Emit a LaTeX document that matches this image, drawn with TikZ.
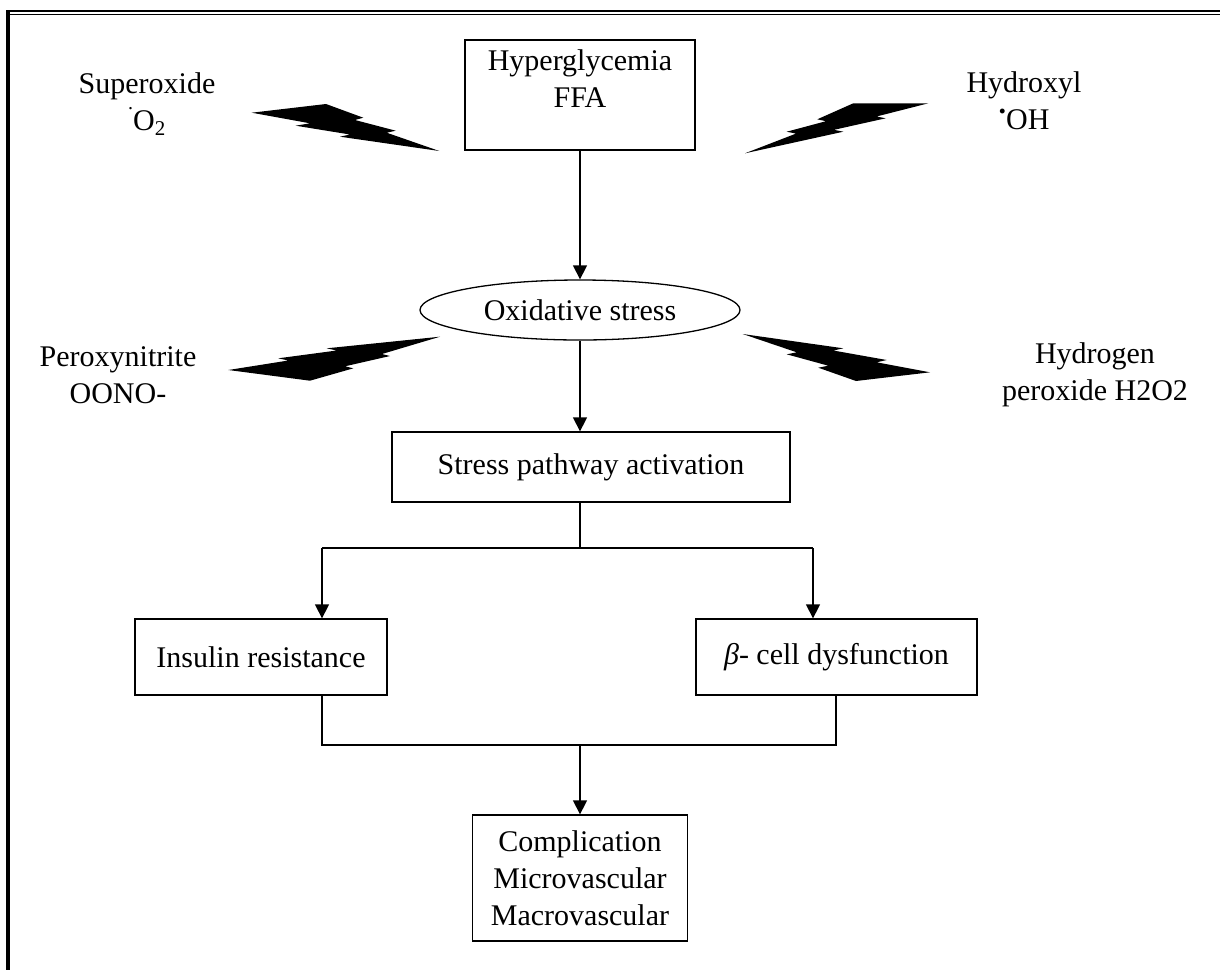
\documentclass[tikz,border=0pt]{standalone}
\usepackage{fontspec}
\setmainfont{Liberation Serif}
\usetikzlibrary{arrows.meta,shapes.geometric}
\begin{document}
\begin{tikzpicture}[x=1pt,y=-1pt,
  txt/.style={align=center,font=\fontsize{30}{37}\selectfont},
  box/.style={txt,draw,line width=1.3pt,inner sep=0pt},
  conn/.style={line width=1.3pt},
  arr/.style={conn,-{Triangle[width=14pt,length=14pt]}},
  bolt/.style={fill=black,draw=none}]
\useasboundingbox (0,0) rectangle (1220,970);
% border
\draw[line width=2pt] (6,11) -- (1220,11);
\draw[line width=1pt] (6,14.5) -- (1220,14.5);
\draw[line width=4pt] (8,10) -- (8,970);
% nodes
\node[box,minimum width=230pt,minimum height=110pt] (hyp) at (580,95) {Hyperglycemia\\FFA\\[-16pt]\strut};
\node[box,ellipse,minimum width=320pt,minimum height=60pt] (ox) at (580,310) {Oxidative stress};
\node[box,minimum width=398pt,minimum height=70pt] (st) at (591,467) {Stress pathway activation};
\node[box,minimum width=252pt,minimum height=76pt] (ins) at (261,657) {Insulin resistance};
\node[box,minimum width=281pt,minimum height=76pt] (beta) at (836.5,657) {{\itshape β}- cell dysfunction};
\node[box,minimum width=215pt,minimum height=126pt] (comp) at (580,878) {Complication\\Microvascular\\Macrovascular};
% labels
\node[txt] (so) at (147,104) {Superoxide\\\smash{\raisebox{21pt}{\fontsize{20}{20}\selectfont .}}O\textsubscript{2}};
\node[txt] (hy) at (1024,101) {Hydroxyl\\\smash{\raisebox{16pt}{\bfseries .}}OH};
\node[txt] (pn) at (118,375) {Peroxynitrite\\OONO-};
\node[txt] (hp) at (1095,375) {Hydrogen\\peroxide H2O2};
% connectors
\draw[arr] (hyp.south) -- (ox.north);
\draw[arr] (ox.south) -- (ox.south |- st.north);
\coordinate (sp) at (580,548);
\coordinate (sl) at (322,548);
\coordinate (sr) at (813,548);
\draw[conn] (st.south -| sp) -- (sp);
\draw[conn] (sl) -- (sr);
\draw[arr] (sl) -- (sl |- ins.north);
\draw[arr] (sr) -- (sr |- beta.north);
\coordinate (ml) at (322,745);
\coordinate (mr) at (836,745);
\coordinate (mc) at (580,745);
\draw[conn] (ins.south -| ml) -- (ml) -- (mr) -- (beta.south -| mr);
\draw[arr] (mc) -- (comp.north);
% lightning bolts
\fill[bolt] (251.7,112.7) -- (326,104) -- (363.3,117.7) -- (355,120) -- (395.7,130.7) -- (386.7,132.7) -- (439.3,151) -- (340,136.7) -- (350,134.5) -- (295.7,125.7) -- (310,123.3) -- cycle;
\fill[bolt] (745,153.3) -- (843.3,131.7) -- (834,129.8) -- (885.7,118.3) -- (876.5,116.5) -- (928.3,103.3) -- (853.3,103.3) -- (817.3,119.3) -- (826,121.2) -- (786.7,131.7) -- (796,133.6) -- cycle;
\fill[bolt] (228.3,370) -- (310,380.7) -- (353.3,368.3) -- (345,366.3) -- (390,356) -- (382,354) -- (440,336.7) -- (326.7,348.3) -- (336.7,350.5) -- (278.3,358.3) -- (288.3,360.5) -- cycle;
\fill[bolt] (742.7,334) -- (843.3,348.3) -- (833.3,350.5) -- (886.7,360) -- (876.7,362.3) -- (930,372.3) -- (856,381) -- (818.3,367.7) -- (828.3,365.7) -- (786.7,354.3) -- (796.7,352.3) -- cycle;
\end{tikzpicture}
\end{document}
